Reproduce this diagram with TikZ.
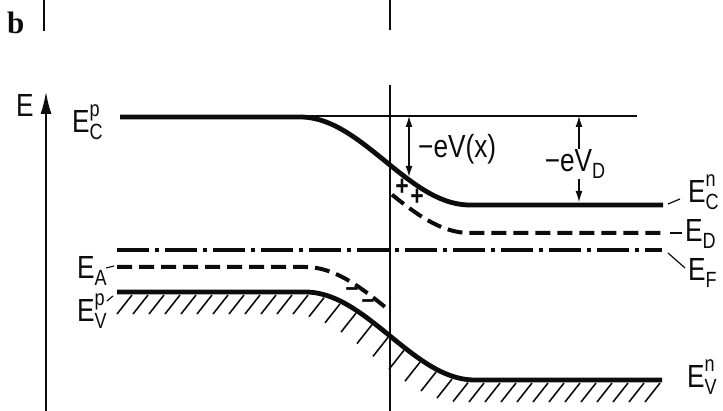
\documentclass[tikz,border=0pt]{standalone}
\usepackage{fontspec}
\usepackage{tikz}
\usetikzlibrary{arrows.meta}
\newfontfamily\lbl{Liberation Sans}[FakeStretch=0.82]
\newfontfamily\panelfont{Liberation Serif}
\definecolor{ink}{RGB}{12,12,12}
\newcommand{\bigsz}{\fontsize{32}{36}\selectfont}
\newcommand{\subsz}{\fontsize{22}{24}\selectfont}
\newcommand{\chargesz}{\lbl\bfseries\fontsize{28}{28}\selectfont}
\newcommand{\panelsz}{\panelfont\bfseries\fontsize{31}{31}\selectfont}
% E with sub- and superscript index
\newcommand{\lvl}[2]{E\rlap{\raisebox{0.5em}{\subsz #2}}\raisebox{-0.2em}{\subsz #1}}

\begin{document}
\begin{tikzpicture}[x=1pt,y=-1pt,
  declare function={bendc(\u)=(1-cos(180*min(max((\u-300)/170,0),1)))/2;
                    bendv(\u)=(1-cos(180*min(max((\u-305)/170,0),1)))/2;},
  band/.style={ink,line width=4.8pt},
  thinline/.style={ink,line width=1.3pt},
  hatch/.style={ink,line width=1.6pt},
  leader/.style={ink,line width=1.2pt},
  dimarrow/.style={ink,line width=1.2pt,{Latex[length=11pt,width=7pt]}-{Latex[length=11pt,width=7pt]}},
  lab/.style={inner sep=0pt,anchor=base west,text=ink,font=\lbl\bigsz},
  charge/.style={inner sep=0pt,text=ink,font=\chargesz}]
\useasboundingbox (0,0) rectangle (723,411);

% panel letter and cut marks
\node[inner sep=0pt,anchor=base west,text=ink,font=\panelsz] (panel) at (7,34) {b};
\coordinate (tickA) at (44,0);
\coordinate (tickB) at (44,31);
\draw[thinline] (tickA) -- (tickB);
\coordinate (junTop) at (390,0);
\coordinate (junTopEnd) at (390,30);
\draw[thinline] (junTop) -- (junTopEnd);
\coordinate (jun) at (390,85);
\coordinate (junEnd) at (390,411);
\draw[thinline] (jun) -- (junEnd);

% energy axis
\coordinate (axFoot) at (46,411);
\coordinate (axTip) at (46,92);
\draw[ink,line width=1.5pt,-{Latex[length=22pt,width=11pt]}] (axFoot) -- (axTip);
\node[lab] (axLab) at (16,117) {E};

% conduction band and reference level
\coordinate (refA) at (300,116);
\coordinate (refB) at (637,116);
\draw[thinline] (refA) -- (refB);
\draw[band] plot[domain=120:663,samples=200] (\x,{117+88*bendc(\x)});
\draw[ink,line width=4pt,dash pattern=on 15pt off 7pt]
  plot[domain=392:662,samples=120] (\x,{145+88*bendc(\x)});

% Fermi level
\coordinate (fermiA) at (117,250);
\coordinate (fermiB) at (662,250);
\draw[ink,line width=4.5pt,dash pattern=on 32pt off 6pt on 4pt off 6pt] (fermiA) -- (fermiB);

% valence band with hatching
\draw[ink,line width=4pt,dash pattern=on 15pt off 7pt]
  plot[domain=117:390,samples=120] (\x,{267+88*bendv(\x)});
\draw[band] plot[domain=117:662,samples=200] (\x,{292+88*bendv(\x)});
\foreach \h in {132,148,...,660}
  \draw[hatch] (\h,{295+88*bendv(\h)}) -- ++(-15,19);

% charges
\node[charge] (plusA) at (402,187) {+};
\node[charge] (plusB) at (417,197) {+};
\node[charge] (minusA) at (352,292) {–};
\node[charge] (minusB) at (368,304) {–};

% potential arrows
\coordinate (eVxA) at (409,116);
\coordinate (eVxB) at (409,{114+88*bendc(409)});
\draw[dimarrow] (eVxA) -- (eVxB);
\node[lab] (eVxLab) at (418,158) {−eV(x)};
\coordinate (eVDA) at (579,116);
\coordinate (eVDB) at (579,202);
\draw[dimarrow] (eVDA) -- node[fill=white,inner sep=1pt,text=ink,font=\lbl\bigsz,xshift=-4pt,yshift=-5pt] (eVDLab) {−eV\raisebox{-0.2em}{\subsz D}} (eVDB);

% level labels
\node[lab] (lblCp) at (72,133) {\lvl{C}{p}};
\node[lab] (lblA) at (77,279) {\lvl{A}{}};
\node[lab] (lblVp) at (77,322) {\lvl{V}{p}};
\node[lab] (lblCn) at (688,203) {\lvl{C}{n}};
\node[lab] (lblD) at (685,242) {\lvl{D}{}};
\node[lab] (lblF) at (688,281) {\lvl{F}{}};
\node[lab] (lblVn) at (687,388) {\lvl{V}{n}};

% leaders
\coordinate (ldA1) at (106,268);  \coordinate (ldA2) at (114,266);
\coordinate (ldV1) at (107,301);  \coordinate (ldV2) at (113,296);
\coordinate (ldC1) at (668,204);  \coordinate (ldC2) at (680,199);
\coordinate (ldD1) at (670,233);  \coordinate (ldD2) at (682,233);
\coordinate (ldF1) at (668,253);  \coordinate (ldF2) at (685,268);
\draw[leader] (ldA1) -- (ldA2);
\draw[leader] (ldV1) -- (ldV2);
\draw[leader] (ldC1) -- (ldC2);
\draw[leader] (ldD1) -- (ldD2);
\draw[leader] (ldF1) -- (ldF2);
\end{tikzpicture}
\end{document}
